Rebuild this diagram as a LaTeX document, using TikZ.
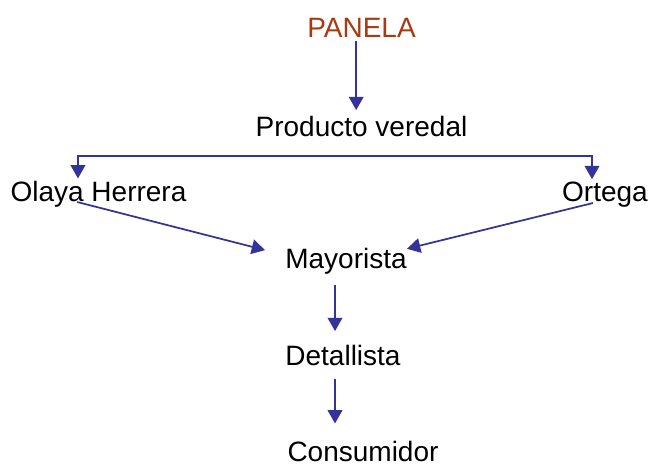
\documentclass[tikz,border=0pt]{standalone}
\usepackage{fontspec}
\setmainfont{Liberation Sans}
\usetikzlibrary{arrows.meta, positioning}
\definecolor{flecha}{RGB}{51,51,153}
\definecolor{titulo}{RGB}{168,58,18}

\begin{document}
\begin{tikzpicture}[x=0.75pt, y=-0.75pt,
		etiqueta/.style={inner sep=0pt, anchor=base, font=\fontsize{21}{25}\selectfont},
		flechita/.style={flecha, line width=1.3pt, -{Triangle[length=10pt, width=11pt]}}]
	\useasboundingbox (0,0) rectangle (648,465);
	% nodos del canal
	\node[etiqueta, titulo] (panela) at (361.5,37) {PANELA};
	\node[etiqueta] (producto) at (361.5,136) {Producto veredal};
	\node[etiqueta] (olaya) at (98.5,201) {Olaya Herrera};
	\node[etiqueta] (ortega) at (605,201) {Ortega};
	\node[etiqueta] (mayorista) at (346,268) {Mayorista};
	\node[etiqueta] (detallista) at (343,365) {Detallista};
	\node[etiqueta] (consumidor) at (363,461) {Consumidor};
	\coordinate (reparto) at (361.5,156);
	% flechas
	\draw[flechita] ([xshift=-4pt, yshift=-3pt]panela.south) -- ([xshift=-4pt, yshift=4pt]producto.north);
	\draw[flechita, {Triangle[length=10pt, width=11pt]}-{Triangle[length=10pt, width=11pt]}]
		([xshift=-15.4pt, yshift=1.5pt]olaya.north) |- (reparto) -| ([xshift=-9.75pt, yshift=1.5pt]ortega.north);
	\draw[flechita] ([xshift=-16pt, yshift=-0.75pt]olaya.base) -- ([xshift=-15pt, yshift=-2pt]mayorista.north west);
	\draw[flechita] ([xshift=-9pt, yshift=-1.5pt]ortega.base) -- ([yshift=-1pt]mayorista.north east);
	\draw[flechita] ([xshift=-8.25pt, yshift=-8pt]mayorista.south) -- ([xshift=-6pt, yshift=10pt]detallista.north);
	\draw[flechita] ([xshift=-6pt, yshift=-9.75pt]detallista.south) -- ([xshift=-21pt, yshift=12.75pt]consumidor.north);
\end{tikzpicture}
\end{document}
